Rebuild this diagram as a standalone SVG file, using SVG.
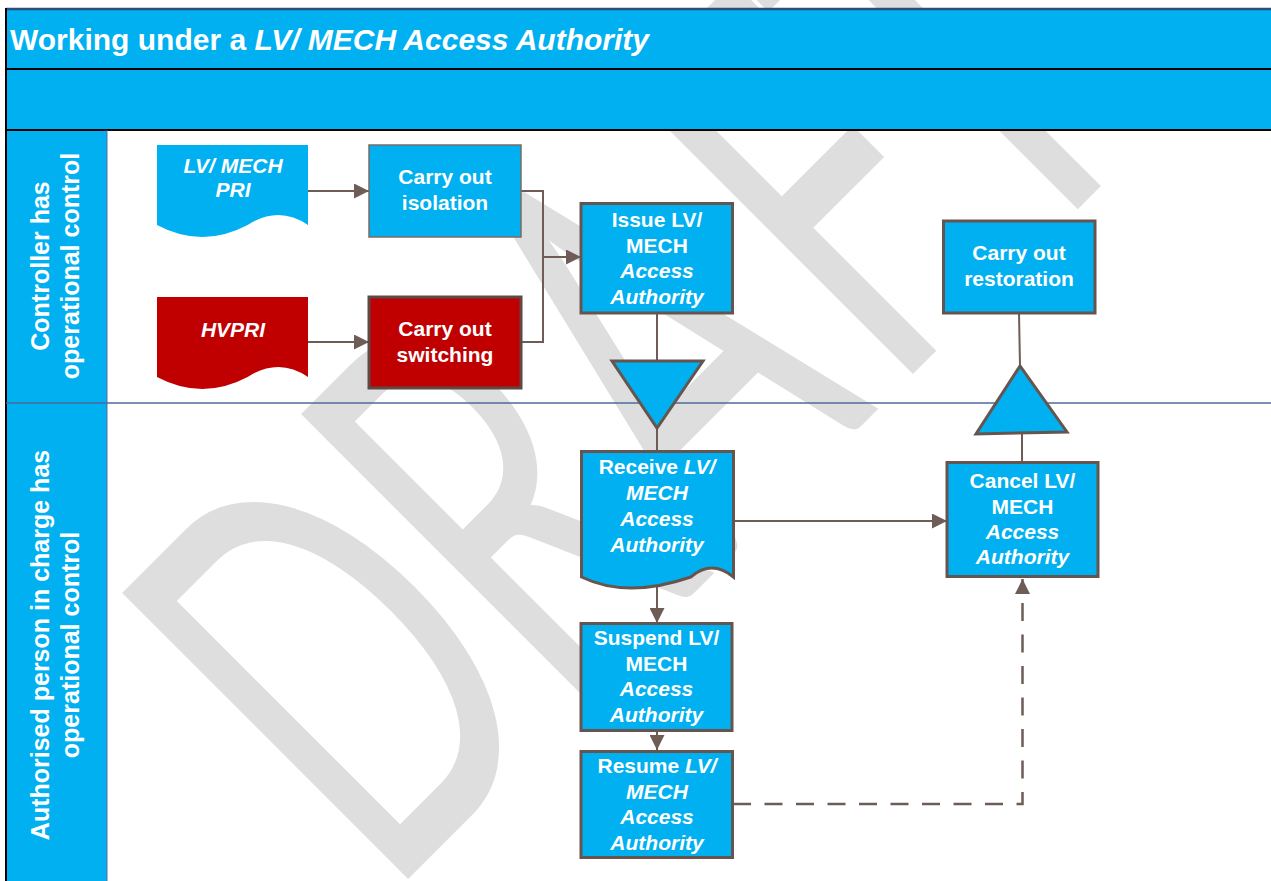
<svg xmlns="http://www.w3.org/2000/svg" width="1271" height="881" viewBox="0 0 1271 881">
<style>
.wm{font-family:Lato,"Open Sans","Liberation Sans",sans-serif;font-size:340px;fill:#dedede}
.title{font-family:"Liberation Sans",Arial,sans-serif;font-weight:bold;font-size:30px;fill:#fff}
.lane{font-family:"Liberation Sans",Arial,sans-serif;font-weight:bold;font-size:25px;fill:#fff;text-anchor:middle}
.nt{font-family:"Liberation Sans",Arial,sans-serif;font-weight:bold;font-size:21px;fill:#fff;text-anchor:middle}
.it{font-style:italic}
.box{fill:#00b0f0;stroke:#66554f;stroke-width:3}
.thin{fill:#00b0f0;stroke:#7b6b66;stroke-width:1.5}
.red{fill:#c00000;stroke:#5e4a45;stroke-width:3}
.doc{fill:#00b0f0;stroke:none}
.docr{fill:#c00000;stroke:none}
.conn{fill:none;stroke:#6e5c57;stroke-width:2}
.dash{stroke-dasharray:18 13.5;stroke-width:2.5}
</style>
<defs>
<marker id="arr" viewBox="0 0 15 15" refX="15" refY="7.5" markerWidth="15" markerHeight="15" markerUnits="userSpaceOnUse" orient="auto">
<path d="M0,0 L15,7.5 L0,15 z" fill="#6e5c57"/>
</marker>
</defs>
<rect x="0" y="0" width="1271" height="881" fill="#fff"/>
<g id="watermark" transform="translate(408,879) rotate(-45)">
<g transform="scale(1,1.66)">
<text class="wm" x="-31" y="0">D</text>
<text class="wm" x="222" y="0">R</text>
<text class="wm" x="436" y="0">A</text>
<text class="wm" x="683" y="0">F</text>
<text class="wm" x="863" y="0">T</text>
</g>
</g>
<g id="frame">
<rect x="6" y="9" width="1265" height="121" fill="#00b0f0"/>
<rect x="6" y="130" width="101" height="751" fill="#00b0f0"/>
<line x1="6" y1="9" x2="1271" y2="9" stroke="#2e4d7a" stroke-width="2.5"/>
<line x1="6" y1="69" x2="1271" y2="69" stroke="#000" stroke-width="2"/>
<line x1="6" y1="130" x2="1271" y2="130" stroke="#000" stroke-width="2"/>
<line x1="6" y1="8" x2="6" y2="881" stroke="#000" stroke-width="2"/>
<line x1="107" y1="130" x2="107" y2="881" stroke="#5a6f8f" stroke-width="1"/>
<line x1="6" y1="403" x2="1271" y2="403" stroke="#4a6b9b" stroke-width="1.5"/>
<text class="title" x="10" y="50">Working under a <tspan class="it">LV/ MECH Access Authority</tspan></text>
</g>
<g id="lane1">
<text class="lane" transform="translate(49,266) rotate(-90)"><tspan x="0" y="0">Controller has</tspan><tspan x="0" y="30">operational control</tspan></text>
</g>
<g id="lane2">
<text class="lane" transform="translate(49,645) rotate(-90)"><tspan x="0" y="0">Authorised person in charge has</tspan><tspan x="0" y="30">operational control</tspan></text>
</g>
<g id="connectors">
<path class="conn" d="M308,191 H369" marker-end="url(#arr)"/>
<path class="conn" d="M308,342 H369" marker-end="url(#arr)"/>
<path class="conn" d="M521,191 H543 V342 H521"/>
<path class="conn" d="M543,257 H581" marker-end="url(#arr)"/>
<path class="conn" d="M657,313 V361"/>
<path class="conn" d="M657,428 V452"/>
<path class="conn" d="M657,580 V623" marker-end="url(#arr)"/>
<path class="conn" d="M657,731 V750" marker-end="url(#arr)"/>
<path class="conn" d="M734,521 H947" marker-end="url(#arr)"/>
<path class="conn dash" d="M733,804 H1022.5 V579" marker-end="url(#arr)"/>
<path class="conn" d="M1019,313 L1020,366"/>
<path class="conn" d="M1022,433 V462"/>
</g>
<g id="lvmech-pri">
<path class="doc" d="M157,145 H308 V225 Q278.8,205 247.6,225 Q202.3,249 157,225 Z"/>
<text class="nt it"><tspan x="233" y="173">LV/ MECH</tspan><tspan x="233" y="197">PRI</tspan></text>
</g>
<g id="hvpri">
<path class="docr" d="M157,297 H308 V377 Q278.8,357 247.6,377 Q202.3,401 157,377 Z"/>
<text class="nt it"><tspan x="233" y="337">HVPRI</tspan></text>
</g>
<g id="isolation">
<rect class="thin" x="369" y="145" width="152" height="92"/>
<text class="nt"><tspan x="445" y="184">Carry out</tspan><tspan x="445" y="210">isolation</tspan></text>
</g>
<g id="switching">
<rect class="red" x="369" y="297" width="152" height="91"/>
<text class="nt"><tspan x="445" y="336">Carry out</tspan><tspan x="445" y="362">switching</tspan></text>
</g>
<g id="issue">
<rect class="box" x="581" y="203.5" width="151.5" height="109.5"/>
<text class="nt"><tspan x="657" y="227">Issue LV/</tspan><tspan x="657" y="253">MECH</tspan><tspan class="it" x="657" y="278">Access</tspan><tspan class="it" x="657" y="303.5">Authority</tspan></text>
</g>
<g id="transfer-down">
<polygon class="box" points="612,361 703,361 657,428"/>
</g>
<g id="receive">
<path class="box" d="M581.5,451.5 H733.5 V577 Q711.6,559 690.7,577 Q627.1,599 581.5,577 Z"/>
<text class="nt"><tspan x="657" y="474">Receive <tspan class="it">LV/</tspan></tspan><tspan class="it" x="657" y="500">MECH</tspan><tspan class="it" x="657" y="526">Access</tspan><tspan class="it" x="657" y="552">Authority</tspan></text>
</g>
<g id="suspend">
<rect class="box" x="581" y="623.5" width="151" height="107"/>
<text class="nt"><tspan x="656.5" y="644.5">Suspend LV/</tspan><tspan x="656.5" y="670.5">MECH</tspan><tspan class="it" x="656.5" y="696">Access</tspan><tspan class="it" x="656.5" y="722">Authority</tspan></text>
</g>
<g id="resume">
<rect class="box" x="581" y="751.5" width="151.5" height="106"/>
<text class="nt"><tspan x="657" y="772.5">Resume <tspan class="it">LV/</tspan></tspan><tspan class="it" x="657" y="798.5">MECH</tspan><tspan class="it" x="657" y="824">Access</tspan><tspan class="it" x="657" y="849.5">Authority</tspan></text>
</g>
<g id="cancel">
<rect class="box" x="947" y="462.5" width="151" height="114"/>
<text class="nt"><tspan x="1022.5" y="487.5">Cancel LV/</tspan><tspan x="1022.5" y="513.5">MECH</tspan><tspan class="it" x="1022.5" y="538.5">Access</tspan><tspan class="it" x="1022.5" y="564">Authority</tspan></text>
</g>
<g id="transfer-up">
<polygon class="box" points="1020,366 976,434 1067,432"/>
</g>
<g id="restoration">
<rect class="box" x="943.5" y="221" width="151.5" height="92"/>
<text class="nt"><tspan x="1019" y="260">Carry out</tspan><tspan x="1019" y="286">restoration</tspan></text>
</g>
</svg>
